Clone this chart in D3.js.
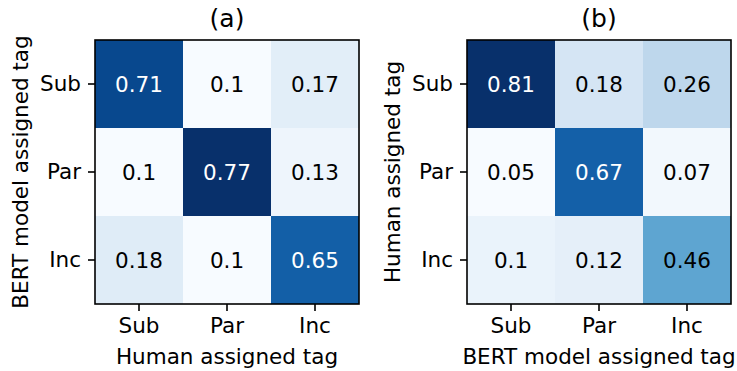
<!DOCTYPE html>
<html>
<head>
<meta charset="utf-8">
<script src="https://cdn.jsdelivr.net/npm/d3@7"></script>
<style>
  body { margin: 0; background: #fff; }
  text { font-family: "DejaVu Sans", sans-serif; fill: #000; }
</style>
</head>
<body>
<div id="chart"></div>
<script>
const categories = ['Sub', 'Par', 'Inc']
const titles = ['(a)', '(b)']
const xLabels = ['Human assigned tag', 'BERT model assigned tag']
const yLabels = ['BERT model assigned tag', 'Human assigned tag']
// rows = y category, cols = x category
const matrixA = [
  [0.71, 0.1, 0.17],
  [0.1, 0.77, 0.13],
  [0.18, 0.1, 0.65]
]
const matrixB = [
  [0.81, 0.18, 0.26],
  [0.05, 0.67, 0.07],
  [0.1, 0.12, 0.46]
]
// matplotlib "Blues" anchor colours
const bluesStops = ['#f7fbff', '#deebf7', '#c6dbef', '#9ecae1', '#6baed6', '#4292c6', '#2171b5', '#08519c', '#08306b']

const width = 737
const height = 371
const size = 264
const fs = 21.5
const panels = [
  { x0: 95, y0: 40, data: matrixA },
  { x0: 467, y0: 40, data: matrixB }
]

const blues = d3.scaleLinear()
  .domain(d3.range(bluesStops.length).map(i => i / (bluesStops.length - 1)))
  .range(bluesStops)
  .clamp(true)

const svg = d3.select('#chart').append('svg')
  .attr('width', width)
  .attr('height', height)

panels.forEach((p, k) => {
  const flat = p.data.flat()
  const norm = d3.scaleLinear().domain(d3.extent(flat)).range([0, 1])

  const x = d3.scaleBand().domain(categories).range([0, size])
  const y = d3.scaleBand().domain(categories).range([0, size])

  const g = svg.append('g')
    .attr('transform', `translate(${p.x0},${p.y0})`)

  const cells = []
  p.data.forEach((row, i) => row.forEach((v, j) => {
    cells.push({ row: categories[i], col: categories[j], v })
  }))

  g.selectAll('rect.cell')
    .data(cells)
    .join('rect')
    .attr('class', 'cell')
    .attr('x', d => x(d.col))
    .attr('y', d => y(d.row))
    .attr('width', x.bandwidth())
    .attr('height', y.bandwidth())
    .attr('fill', d => blues(norm(d.v)))

  g.selectAll('text.val')
    .data(cells)
    .join('text')
    .attr('class', 'val')
    .attr('x', d => x(d.col) + x.bandwidth() / 2)
    .attr('y', d => y(d.row) + y.bandwidth() / 2)
    .attr('dy', '0.36em')
    .attr('text-anchor', 'middle')
    .attr('font-size', fs)
    .style('fill', d => norm(d.v) > 0.7 ? '#fff' : '#000')
    .text(d => d.v)

  // axes
  const xAxis = g.append('g')
    .attr('transform', `translate(0,${size})`)
    .call(d3.axisBottom(x).tickSize(7).tickPadding(7))
  const yAxis = g.append('g')
    .call(d3.axisLeft(y).tickSize(7).tickPadding(7))
  ;[xAxis, yAxis].forEach(a => {
    a.select('.domain').remove()
    a.selectAll('line').attr('stroke', '#000').attr('stroke-width', 1.6)
    a.selectAll('text')
      .attr('font-family', '"DejaVu Sans", sans-serif')
      .attr('font-size', fs)
      .attr('fill', '#000')
  })

  g.append('rect')
    .attr('width', size)
    .attr('height', size)
    .attr('fill', 'none')
    .attr('stroke', '#000')
    .attr('stroke-width', 1.6)

  g.append('text')
    .attr('x', size / 2)
    .attr('y', -13)
    .attr('text-anchor', 'middle')
    .attr('font-size', 25)
    .text(titles[k])

  g.append('text')
    .attr('x', size / 2)
    .attr('y', 324)
    .attr('text-anchor', 'middle')
    .attr('font-size', fs)
    .text(xLabels[k])

  g.append('text')
    .attr('transform', `translate(${-67},${size / 2}) rotate(-90)`)
    .attr('text-anchor', 'middle')
    .attr('font-size', fs)
    .text(yLabels[k])
})
</script>
</body>
</html>
